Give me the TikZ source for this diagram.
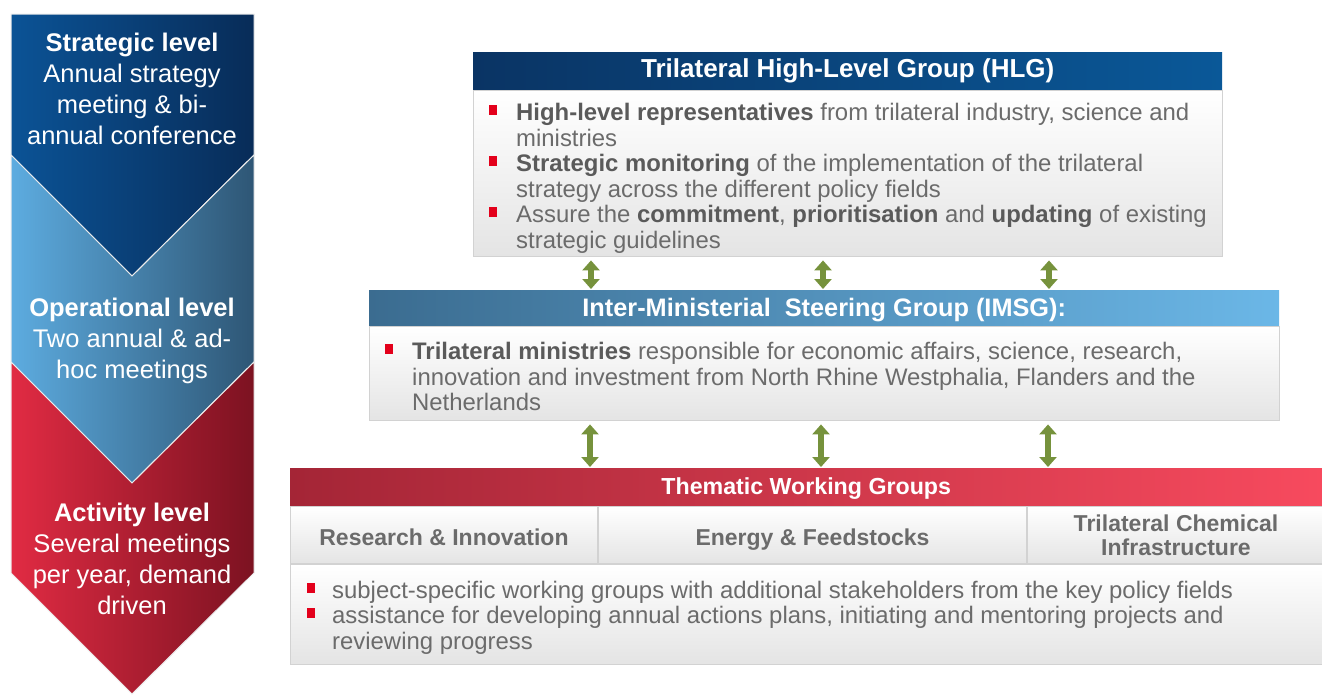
\documentclass[tikz,border=0pt]{standalone}
\usepackage{fontspec}
\setmainfont{Liberation Sans}
\usetikzlibrary{positioning,arrows.meta,calc}
\definecolor{stratL}{HTML}{0B5396}
\definecolor{stratR}{HTML}{082C58}
\definecolor{operL}{HTML}{5DACE0}
\definecolor{operR}{HTML}{2E5675}
\definecolor{actL}{HTML}{E12B43}
\definecolor{actR}{HTML}{7C1221}
\definecolor{hlgL}{HTML}{0A3464}
\definecolor{hlgR}{HTML}{0A5898}
\definecolor{imsgL}{HTML}{3B6C90}
\definecolor{imsgR}{HTML}{6BB7E7}
\definecolor{twgL}{HTML}{A42536}
\definecolor{twgR}{HTML}{F74A5E}
\definecolor{boxgray}{HTML}{E4E4E4}
\definecolor{boxline}{HTML}{D2D2D2}
\definecolor{txtgray}{HTML}{6B6B6B}
\definecolor{boldgray}{HTML}{5A5A5A}
\definecolor{bulred}{HTML}{E3001B}
\definecolor{arrgreen}{HTML}{76923C}
\newcommand{\kw}[1]{\textbf{\color{boldgray}#1}}
\tikzset{
  lvltext/.style={text=white, align=center, anchor=north, inner sep=0pt,
    font=\fontsize{25.5}{31}\selectfont},
  headbox/.style={anchor=north west, inner sep=0pt, text=white,
    font=\bfseries\fontsize{26}{28}\selectfont},
  bodybox/.style={anchor=north west, inner sep=0pt, top color=white,
    bottom color=boxgray, draw=boxline, line width=1pt},
  bodytext/.style={text=txtgray, align=left, anchor=north west, inner sep=0pt,
    font=\fontsize{23.9}{25.6}\selectfont},
  celltext/.style={text=txtgray, align=center, font=\bfseries\fontsize{23}{24}\selectfont},
  onerow/.style={text height=17pt, text depth=3pt},
  bul/.style={fill=bulred, minimum width=8pt, minimum height=10pt, inner sep=0pt},
  dblarrow/.style={draw=arrgreen, line width=6pt,
    {Triangle[width=17pt,length=10pt]}-{Triangle[width=17pt,length=10pt]}},
}
\begin{document}
\begin{tikzpicture}[x=1pt,y=-1pt]
  \useasboundingbox (0,0) rectangle (1322,694);
  % Level chevrons
  \shade[left color=stratL, right color=stratR, draw=white!85!gray, line width=1pt]
    (11,14) -- (254,14) -- (254,155) -- (132,276) -- (11,155) -- cycle;
  \shade[left color=operL, right color=operR, draw=white!85!gray, line width=1pt]
    (11,155) -- (132,276) -- (254,155) -- (254,362) -- (132,483) -- (11,362) -- cycle;
  \shade[left color=actL, right color=actR, draw=white!85!gray, line width=1pt]
    (11,362) -- (132,483) -- (254,362) -- (254,573) -- (132,694) -- (11,573) -- cycle;
  \node (strat) [lvltext] at (132,33) {\textbf{Strategic level}\\Annual strategy\\meeting \& bi-\\annual conference};
  \node (oper) [lvltext] at (132,298) {\textbf{Operational level}\\Two annual \& ad-\\hoc meetings};
  \node (act) [lvltext] at (132,503) {\textbf{Activity level}\\Several meetings\\per year, demand\\driven};
  % High-Level Group
  \node (hlghead) [headbox, left color=hlgL, right color=hlgR, minimum width=749pt, minimum height=38pt,
    onerow, text depth=5pt] at (473,52) {Trilateral High-Level Group (HLG)};
  \node (hlgbody) [bodybox, minimum width=749pt, minimum height=166pt] at (hlghead.south west) {};
  \node (hlg1) [bodytext] at (516,103) {\kw{High-level representatives} from trilateral industry, science and\\ministries};
  \node (hlg2) [bodytext] at (516,154) {\kw{Strategic monitoring} of the implementation of the trilateral\\strategy across the different policy fields};
  \node (hlg3) [bodytext] at (516,205) {Assure the \kw{commitment}, \kw{prioritisation} and \kw{updating} of existing\\strategic guidelines};
  \foreach \n in {hlg1,hlg2,hlg3}
    \node[bul] at ([xshift=-23pt,yshift=-7pt]\n.north west) {};
  % Inter-Ministerial Steering Group
  \node (imsghead) [headbox, left color=imsgL, right color=imsgR, minimum width=910pt, minimum height=36pt,
    font=\bfseries\fontsize{25.3}{28}\selectfont, onerow, text depth=1pt] at (369,290) {Inter-Ministerial\ \ Steering Group (IMSG):};
  \node (imsgbody) [bodybox, minimum width=910pt, minimum height=94pt] at (imsghead.south west) {};
  \node (imsg1) [bodytext] at (412,342) {\kw{Trilateral ministries} responsible for economic affairs, science, research,\\innovation and investment from North Rhine Westphalia, Flanders and the\\Netherlands};
  \node[bul] at ([xshift=-23pt,yshift=-7pt]imsg1.north west) {};
  % Thematic Working Groups
  \node (twghead) [headbox, left color=twgL, right color=twgR, minimum width=1032pt, minimum height=38pt,
    font=\bfseries\fontsize{23.2}{26}\selectfont, onerow] at (290,468) {Thematic Working Groups};
  \node (rcell) [bodybox, minimum width=307pt, minimum height=57pt, celltext, text height=21pt, text depth=1pt]
    at (twghead.south west) {Research \& Innovation};
  \node (ecell) [bodybox, minimum width=428pt, minimum height=57pt, celltext, text height=21pt, text depth=1pt]
    at (rcell.north east) {Energy \& Feedstocks};
  \node (tcell) [bodybox, minimum width=297pt, minimum height=57pt, celltext] at (ecell.north east) {Trilateral Chemical\\Infrastructure};
  \node (twgbody) [bodybox, minimum width=1032pt, minimum height=100pt] at (rcell.south west) {};
  \node (twg1) [bodytext] at (332,581) {subject-specific working groups with additional stakeholders from the key policy fields};
  \node (twg2) [bodytext] at (332,606) {assistance for developing annual actions plans, initiating and mentoring projects and\\reviewing progress};
  \foreach \n in {twg1,twg2}
    \node[bul] at ([xshift=-21pt,yshift=-7pt]\n.north west) {};
  % Links between the groups
  \foreach \x [count=\i] in {118,350,576} {
    \coordinate (ua\i) at ($(hlgbody.south west)+(\x,3)$);
    \coordinate (da\i) at ($(imsghead.north west)+(\x+104,-1)$);
    \draw[dblarrow] (ua\i) -- (da\i);
  }
  \foreach \x [count=\i] in {221,452,679} {
    \coordinate (ub\i) at ($(imsgbody.south west)+(\x,3)$);
    \coordinate (db\i) at ($(twghead.north west)+(\x+79,-1)$);
    \draw[dblarrow] (ub\i) -- (db\i);
  }
\end{tikzpicture}
\end{document}
